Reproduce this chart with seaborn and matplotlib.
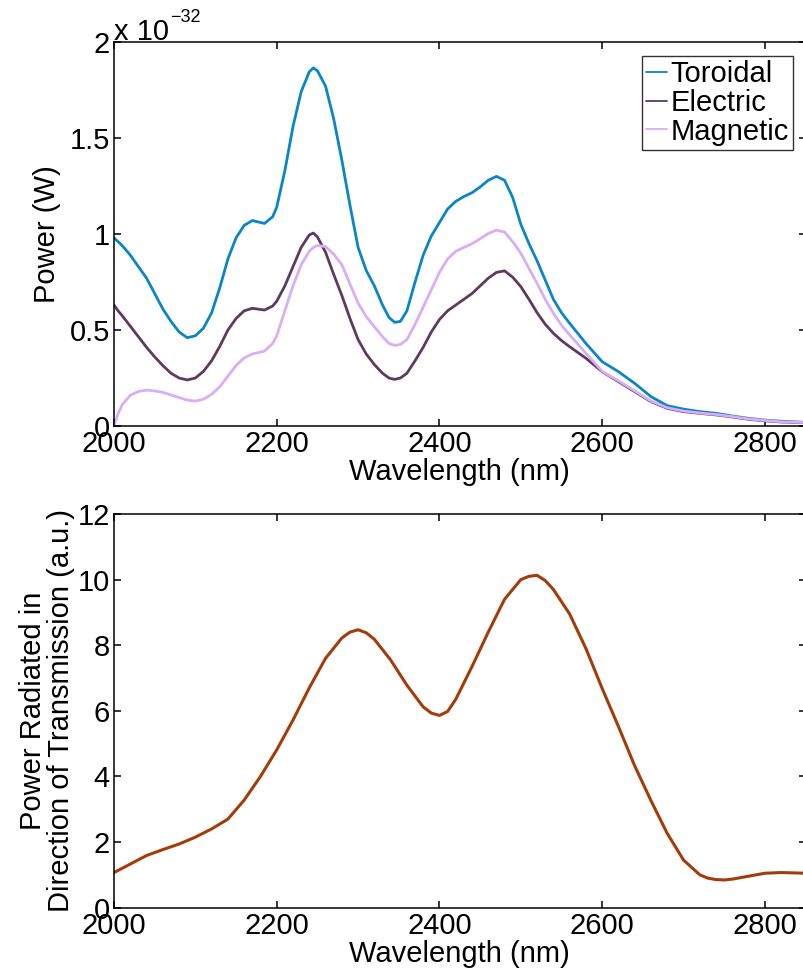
import numpy as np
import pandas as pd
import matplotlib
matplotlib.use("Agg")
import matplotlib.pyplot as plt
import seaborn as sns

# ---------------- data ----------------
wl_top = [2000, 2005, 2010, 2020, 2030, 2040, 2050, 2060, 2070, 2080, 2090, 2100, 2110,
          2120, 2130, 2140, 2150, 2160, 2170, 2185, 2195, 2200, 2210, 2220, 2230, 2240,
          2245, 2250, 2260, 2270, 2280, 2290, 2300, 2310, 2320, 2330, 2338, 2345, 2352,
          2360, 2370, 2380, 2390, 2400, 2410, 2420, 2430, 2440, 2450, 2460, 2470, 2480,
          2490, 2500, 2510, 2520, 2530, 2540, 2550, 2560, 2580, 2600, 2620, 2640, 2660,
          2680, 2700, 2720, 2740, 2760, 2780, 2800, 2820, 2850]

toroidal = [0.98, 0.96, 0.94, 0.89, 0.83, 0.77, 0.69, 0.61, 0.545, 0.49, 0.46, 0.47, 0.51,
            0.59, 0.72, 0.87, 0.98, 1.045, 1.07, 1.055, 1.09, 1.14, 1.33, 1.56, 1.74, 1.845,
            1.865, 1.85, 1.77, 1.60, 1.385, 1.15, 0.93, 0.81, 0.73, 0.63, 0.565, 0.54, 0.545,
            0.60, 0.75, 0.89, 0.99, 1.06, 1.13, 1.17, 1.195, 1.215, 1.245, 1.28, 1.30, 1.28,
            1.19, 1.05, 0.95, 0.86, 0.76, 0.66, 0.59, 0.535, 0.43, 0.335, 0.283, 0.222, 0.153,
            0.106, 0.088, 0.075, 0.066, 0.052, 0.040, 0.031, 0.025, 0.019]

electric = [0.63, 0.60, 0.575, 0.52, 0.465, 0.41, 0.36, 0.315, 0.275, 0.25, 0.24, 0.25, 0.285,
            0.34, 0.415, 0.50, 0.56, 0.60, 0.613, 0.604, 0.625, 0.65, 0.73, 0.83, 0.93, 0.995,
            1.005, 0.985, 0.905, 0.79, 0.68, 0.56, 0.45, 0.375, 0.32, 0.275, 0.25, 0.243, 0.25,
            0.275, 0.34, 0.41, 0.49, 0.555, 0.60, 0.63, 0.66, 0.69, 0.73, 0.77, 0.80, 0.808,
            0.775, 0.726, 0.66, 0.59, 0.53, 0.483, 0.445, 0.413, 0.353, 0.283, 0.231, 0.179, 0.127,
            0.092, 0.075, 0.066, 0.058, 0.047, 0.035, 0.027, 0.021, 0.017]

magnetic = [0.0, 0.065, 0.11, 0.16, 0.18, 0.187, 0.183, 0.175, 0.162, 0.148, 0.135, 0.13, 0.14,
            0.165, 0.205, 0.26, 0.315, 0.355, 0.375, 0.39, 0.43, 0.47, 0.60, 0.73, 0.84, 0.91,
            0.93, 0.94, 0.935, 0.895, 0.84, 0.74, 0.64, 0.57, 0.517, 0.465, 0.43, 0.42, 0.425,
            0.45, 0.53, 0.62, 0.71, 0.80, 0.87, 0.91, 0.93, 0.95, 0.975, 1.003, 1.02, 1.01,
            0.96, 0.90, 0.82, 0.743, 0.66, 0.587, 0.525, 0.474, 0.379, 0.285, 0.235, 0.183, 0.13,
            0.095, 0.078, 0.068, 0.060, 0.049, 0.037, 0.029, 0.022, 0.018]

series_names = ["Toroidal", "Electric", "Magnetic"]
series_colors = ["#0a85c6", "#5e3a5e", "#d7aef7"]

wl_bottom = [2000, 2020, 2040, 2060, 2080, 2100, 2120, 2140, 2160, 2180, 2200, 2220, 2240,
             2260, 2280, 2290, 2300, 2310, 2320, 2340, 2360, 2380, 2390, 2400, 2410, 2420,
             2440, 2460, 2480, 2500, 2510, 2520, 2530, 2540, 2560, 2580, 2600, 2620, 2640,
             2660, 2680, 2700, 2720, 2730, 2740, 2750, 2760, 2780, 2800, 2820, 2850]
transmission = [1.07, 1.33, 1.59, 1.77, 1.94, 2.15, 2.40, 2.70, 3.28, 4.0, 4.81, 5.72, 6.70,
                7.60, 8.22, 8.40, 8.47, 8.38, 8.18, 7.55, 6.78, 6.12, 5.93, 5.86, 5.98, 6.35,
                7.35, 8.40, 9.40, 10.0, 10.1, 10.13, 9.97, 9.70, 8.95, 7.90, 6.68, 5.52, 4.32,
                3.26, 2.26, 1.45, 1.0, 0.9, 0.855, 0.845, 0.87, 0.96, 1.05, 1.07, 1.05]
bottom_color = "#a33c0b"

x_ticks = [2000, 2200, 2400, 2600, 2800]
top_yticks = [0, 0.5, 1, 1.5, 2]
bottom_yticks = [0, 2, 4, 6, 8, 10, 12]

# ---------------- style ----------------
sns.set_style("ticks")
plt.rcParams["font.family"] = ["Liberation Sans", "DejaVu Sans"]
plt.rcParams.update({
    "xtick.direction": "in", "ytick.direction": "in",
    "xtick.major.size": 5, "ytick.major.size": 5,
    "xtick.major.width": 1.1, "ytick.major.width": 1.1,
    "xtick.major.pad": 3, "ytick.major.pad": 3,
    "axes.linewidth": 1.1, "axes.edgecolor": "black",
    "xtick.color": "black", "ytick.color": "black",
    "text.color": "black", "axes.labelcolor": "black",
    "font.size": 21,
})
FS = 21

fig = plt.figure(figsize=(8.04, 9.74), dpi=100)
ax1 = fig.add_axes([0.1418, 0.5626, 0.8602, 0.3943])
ax2 = fig.add_axes([0.1418, 0.0681, 0.8602, 0.4042])

# ---------------- top panel ----------------
df_top = pd.DataFrame({
    "Wavelength": wl_top * 3,
    "Power": toroidal + electric + magnetic,
    "Mode": [series_names[0]] * len(wl_top) + [series_names[1]] * len(wl_top)
            + [series_names[2]] * len(wl_top),
})
sns.lineplot(data=df_top, x="Wavelength", y="Power", hue="Mode", hue_order=series_names,
             palette=series_colors, linewidth=2.0, ax=ax1, errorbar=None, legend=True)

ax1.set_xlim(2000, 2850)
ax1.set_ylim(0, 2)
ax1.set_xticks(x_ticks)
ax1.set_yticks(top_yticks)
ax1.set_yticklabels([f"{v:g}" for v in top_yticks], fontsize=FS)
ax1.set_xticklabels([str(v) for v in x_ticks], fontsize=FS)
ax1.set_xlabel("Wavelength (nm)", fontsize=FS, labelpad=0)
ax1.set_ylabel("Power (W)", fontsize=FS, va="center")
ax1.yaxis.set_label_coords(47 / 804, 0.7598, transform=fig.transFigure)

handles, labels = ax1.get_legend_handles_labels()
leg = ax1.legend(handles, labels, loc="upper right",
                 bbox_to_anchor=(793 / 804, 1 - 56 / 974), bbox_transform=fig.transFigure,
                 frameon=True, fancybox=False, edgecolor="black", fontsize=FS,
                 handlelength=0.7, handletextpad=0.12, borderpad=0.15, labelspacing=0.02,
                 borderaxespad=0)
leg.get_frame().set_linewidth(1.0)
for h in leg.get_lines():
    h.set_linewidth(1.3)

fig.text(114 / 804, 1 - 40 / 974, "x 10", fontsize=FS, ha="left", va="baseline")
fig.text(170 / 804, 1 - 22 / 974, "\u221232", fontsize=13, ha="left", va="baseline")

# ---------------- bottom panel ----------------
df_bot = pd.DataFrame({"Wavelength": wl_bottom, "Transmission": transmission})
sns.lineplot(data=df_bot, x="Wavelength", y="Transmission", color=bottom_color,
             linewidth=2.2, ax=ax2, errorbar=None)
ax2.set_xlim(2000, 2850)
ax2.set_ylim(0, 12)
ax2.set_xticks(x_ticks)
ax2.set_yticks(bottom_yticks)
ax2.set_yticklabels([str(v) for v in bottom_yticks], fontsize=FS)
ax2.set_xticklabels([str(v) for v in x_ticks], fontsize=FS)
ax2.set_xlabel("Wavelength (nm)", fontsize=FS, labelpad=0)
ax2.set_ylabel("Power Radiated in\nDirection of Transmission (a.u.)", fontsize=FS,
               va="center", linespacing=1.0)
ax2.yaxis.set_label_coords(47 / 804, 0.2702, transform=fig.transFigure)

for ax in (ax1, ax2):
    ax.tick_params(top=True, right=True, labeltop=False, labelright=False)
    for s in ax.spines.values():
        s.set_visible(True)
        s.set_color("black")

fig.savefig("out.png", dpi=100)
